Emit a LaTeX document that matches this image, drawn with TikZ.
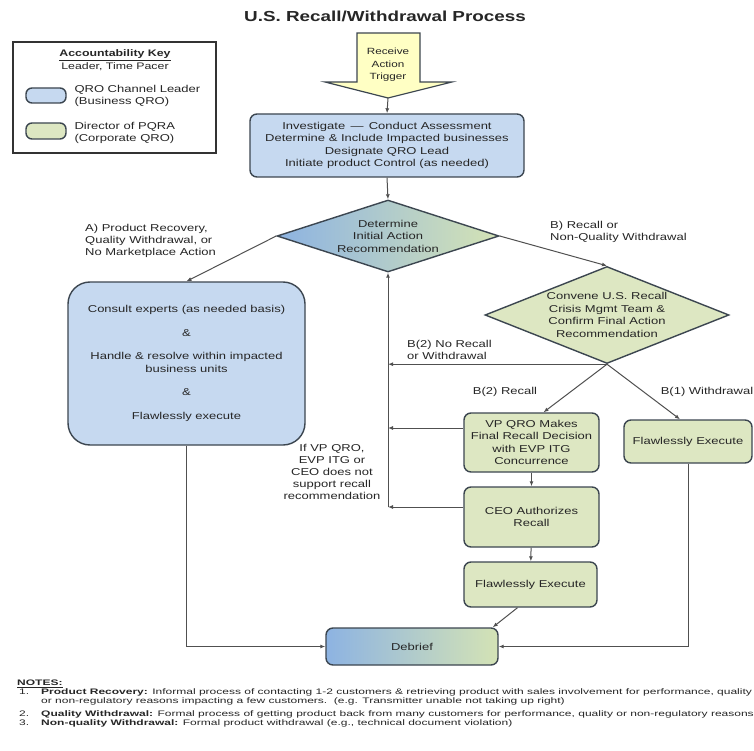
\documentclass[tikz,border=0pt]{standalone}
\usepackage{fontspec}
\setmainfont{Liberation Sans}[FakeStretch=1.3]
\newfontfamily\notefont{Liberation Sans}[FakeStretch=1.5]
\usetikzlibrary{shapes.geometric,arrows.meta,calc}
\definecolor{bluefill}{HTML}{C6D9F0}
\definecolor{greenfill}{HTML}{DDE7C2}
\definecolor{diablue}{HTML}{8DB3E2}
\definecolor{diagreen}{HTML}{D4E3B5}
\definecolor{edge}{HTML}{3C4650}
\definecolor{trigfill}{HTML}{FFFFC4}
\definecolor{connc}{HTML}{505050}
\begin{document}
\begin{tikzpicture}[x=1pt,y=-1pt,
  every node/.style={font=\fontsize{10}{12.5}\selectfont, text=black!85},
  box/.style={draw=edge, line width=1.4pt, rounded corners=7pt, align=center, inner sep=2pt},
  bbox/.style={box, fill=bluefill},
  gbox/.style={box, fill=greenfill},
  dia/.style={diamond, draw=edge, line width=1.4pt, inner sep=0pt, align=center},
  conn/.style={draw=connc, line width=1pt, -{Latex[length=5pt,width=4pt]}},
  lbl/.style={font=\fontsize{10}{12}\selectfont, inner sep=0pt},
  nfont/.style={font=\notefont\fontsize{8}{9}\selectfont, inner sep=0pt},
]
\fill[white] (0,0) rectangle (754,751);
\useasboundingbox (0,0) rectangle (754,751);

% title
\node[font=\bfseries\fontsize{14.5}{17}\selectfont] (title) at (385,16) {U.S. Recall/Withdrawal Process};

% legend
\node[draw=black!80, line width=1.5pt, minimum width=203, minimum height=111, inner sep=0pt] (legend) at (114.5,97.5) {};
\node[font=\bfseries\fontsize{9.5}{11}\selectfont] (lkey) at (115,55) {\underline{Accountability Key}};
\node[font=\fontsize{9.5}{11}\selectfont] (lsub) at (115,67) {Leader, Time Pacer};
\node[bbox, rounded corners=6pt, minimum width=40, minimum height=15, inner sep=0pt] (lb) at (46,95.5) {};
\node[anchor=west, align=left, font=\fontsize{10}{12}\selectfont] (lbt) at (71,96) {QRO Channel Leader\\(Business QRO)};
\node[gbox, rounded corners=6pt, minimum width=40, minimum height=16, inner sep=0pt] (lg) at (46,131) {};
\node[anchor=west, align=left, font=\fontsize{10}{12}\selectfont] (lgt) at (71,133) {Director of PQRA\\(Corporate QRO)};

% trigger
\draw[draw=edge, line width=1.2pt, fill=trigfill] (357,33) -- (420,33) -- (420,82) -- (452,82) -- (388,98) -- (325,82) -- (357,82) -- cycle;
\node[align=center, font=\fontsize{9}{12.5}\selectfont] (trig) at (388,65) {Receive\\Action\\Trigger};
\coordinate (trigtip) at (388,98);

% main nodes
\node[bbox, minimum width=274, minimum height=63] (inv) at (387,145.5)
  {Investigate \,---\, Conduct Assessment\\Determine \& Include Impacted businesses\\Designate QRO Lead\\Initiate product Control (as needed)};
\node[dia, left color=diablue, right color=diagreen, aspect=3.08, minimum width=222, minimum height=72] (d1) at (388,236)
  {Determine\\Initial Action\\Recommendation};
\node[dia, fill=greenfill, aspect=2.5, minimum width=244, minimum height=97] (d2) at (607,315)
  {Convene U.S. Recall\\Crisis Mgmt Team \&\\Confirm Final Action\\Recommendation};
\node[bbox, rounded corners=22pt, minimum width=237, minimum height=163] (big) at (186.5,363.5)
  {Consult experts (as needed basis)\\[11pt]\&\\[11pt]Handle \& resolve within impacted\\business units\\[11pt]\&\\[11pt]Flawlessly execute};
\node[gbox, minimum width=135, minimum height=59] (vp) at (531.5,442.5)
  {VP QRO Makes\\Final Recall Decision\\with EVP ITG\\Concurrence};
\node[gbox, minimum width=128, minimum height=43] (rfe) at (688,441.5) {Flawlessly Execute};
\node[gbox, minimum width=135, minimum height=60] (ceo) at (531.5,517) {CEO Authorizes\\Recall};
\node[gbox, minimum width=133, minimum height=45] (mfe) at (530.5,584.5) {Flawlessly Execute};
\node[box, left color=diablue, right color=diagreen, minimum width=172, minimum height=37] (deb) at (412,646.5) {Debrief};

% connectors
\coordinate (r1) at (d1.south |- d2.south);
\coordinate (r2) at (388,428);
\coordinate (r3) at (388,507);
\draw[conn] (trigtip) -- (inv.north);
\draw[conn] (inv.south) -- (d1.north);
\draw[conn] (d1.west) -- (big.north);
\draw[conn] (d1.east) -- (d2.north);
\draw[conn] (d2.south) -- (r1);
\draw[conn] (vp.west |- r2) -- (r2);
\draw[conn] (ceo.west |- r3) -- (r3);
\draw[conn] (r3) -- (d1.south);
\draw[conn] (d2.south) -- ($(vp.north)+(12,0)$);
\draw[conn] (d2.south) -- ($(rfe.north)+(-8,0)$);
\draw[conn] (vp) -- (ceo);
\draw[conn] (ceo) -- (mfe);
\draw[conn] ($(mfe.south)+(-13,0)$) -- ($(deb.north east)+(-6,0)$);
\draw[conn] (big.south) |- (deb.west);
\draw[conn] (rfe.south) |- (deb.east);

% labels
\node[lbl, anchor=west, align=left] (la) at (85,241) {A) Product Recovery,\\Quality Withdrawal, or\\No Marketplace Action};
\node[lbl, anchor=west, align=left] (lb1) at (550,232) {B) Recall or\\Non-Quality Withdrawal};
\node[lbl, anchor=west, align=left] (lb2n) at (407,350) {B(2) No Recall\\or Withdrawal};
\node[lbl] (lb2r) at (505,392) {B(2) Recall};
\node[lbl] (lb1w) at (707,392) {B(1) Withdrawal};
\node[lbl, align=center] (lif) at (332,472) {If VP QRO,\\EVP ITG or\\CEO does not\\support recall\\recommendation};

% notes
\node[anchor=west, inner sep=0pt, font=\notefont\bfseries\fontsize{8}{9}\selectfont] (notes) at (17,684) {\underline{NOTES:}};
\node[anchor=west, nfont] (n1num) at (19,692) {1.};
\node[anchor=west, nfont] (n1a) at (41,692) {\textbf{Product Recovery:} Informal process of contacting 1-2 customers \& retrieving product with sales involvement for performance, quality};
\node[anchor=west, nfont] (n1b) at (41,701) {or non-regulatory reasons impacting a few customers.\ \ (e.g. Transmitter unable not taking up right)};
\node[anchor=west, nfont] (n2num) at (19,714) {2.};
\node[anchor=west, nfont] (n2) at (41,714) {\textbf{Quality Withdrawal:} Formal process of getting product back from many customers for performance, quality or non-regulatory reasons};
\node[anchor=west, nfont] (n3num) at (19,723) {3.};
\node[anchor=west, nfont] (n3) at (41,723) {\textbf{Non-quality Withdrawal:} Formal product withdrawal (e.g., technical document violation)};
\end{tikzpicture}
\end{document}
